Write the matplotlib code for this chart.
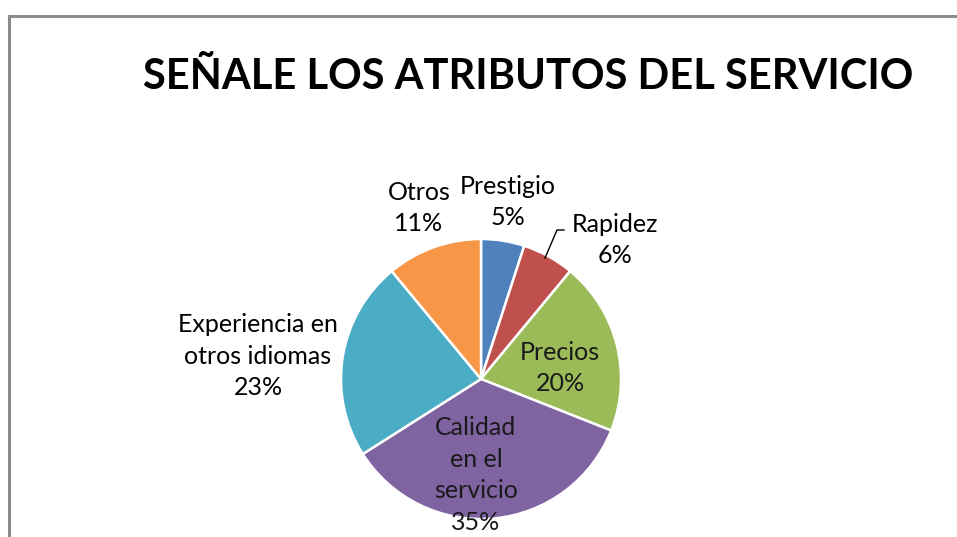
import matplotlib
matplotlib.use("Agg")
import matplotlib.pyplot as plt
from matplotlib.lines import Line2D

categories = ["Prestigio", "Rapidez", "Precios", "Calidad\nen el\nservicio",
              "Experiencia en\notros idiomas", "Otros"]
values = [5, 6, 20, 35, 23, 11]
colors = ["#4F81BD", "#C0504D", "#9BBB59", "#8064A2", "#4BACC6", "#F79646"]
title = "SEÑALE LOS ATRIBUTOS DEL SERVICIO"

W, H = 957, 537
fig = plt.figure(figsize=(W / 100, H / 100), dpi=100)
fig.patch.set_facecolor("white")

FONT = ["Lato", "DejaVu Sans"]

def px(x, y):
    return x / W, 1 - y / H

# border of the chart area
fig.add_artist(Line2D([8.5 / W, 1.0], [1 - 15.5 / H] * 2, color="#8c8c8c", lw=2.2))
fig.add_artist(Line2D([8.5 / W] * 2, [1 - 15.5 / H, 0], color="#8c8c8c", lw=2.2))

cx, cy, r = 481, 379, 140
ax = fig.add_axes([(cx - r) / W, (H - cy - r) / H, 2 * r / W, 2 * r / H])
wedges, _ = ax.pie(values, colors=colors, startangle=90, counterclock=False,
                   wedgeprops=dict(edgecolor="white", linewidth=1.8))
ax.set_xlim(-1, 1)
ax.set_ylim(-1, 1)
ax.set_aspect("equal")
ax.axis("off")

fig.text(*px(528, 77), title, ha="center", va="center", fontsize=30,
         fontweight="bold", family=FONT, color="black")

def label(x, y, txt, color="black"):
    fig.text(*px(x, y), txt, ha="center", va="center", fontsize=18,
             family=FONT, color=color, linespacing=1.45)

pct = [f"{v}%" for v in values]
label(508, 202, f"{categories[0]}\n{pct[0]}")
label(615, 240, f"{categories[1]}\n{pct[1]}")
label(560, 368, f"{categories[2]}\n{pct[2]}", color="#1a1a1a")
label(476, 475, f"{categories[3]}\n{pct[3]}", color="#1a1a1a")
label(258, 356, f"{categories[4]}\n{pct[4]}")
label(419, 208, f"{categories[5]}\n{pct[5]}")

# leader line for Rapidez
fig.add_artist(Line2D([545 / W, 557 / W, 564 / W],
                      [1 - 258 / H, 1 - 230 / H, 1 - 230 / H],
                      color="black", lw=1))

fig.savefig("out.png", dpi=100, facecolor="white")
